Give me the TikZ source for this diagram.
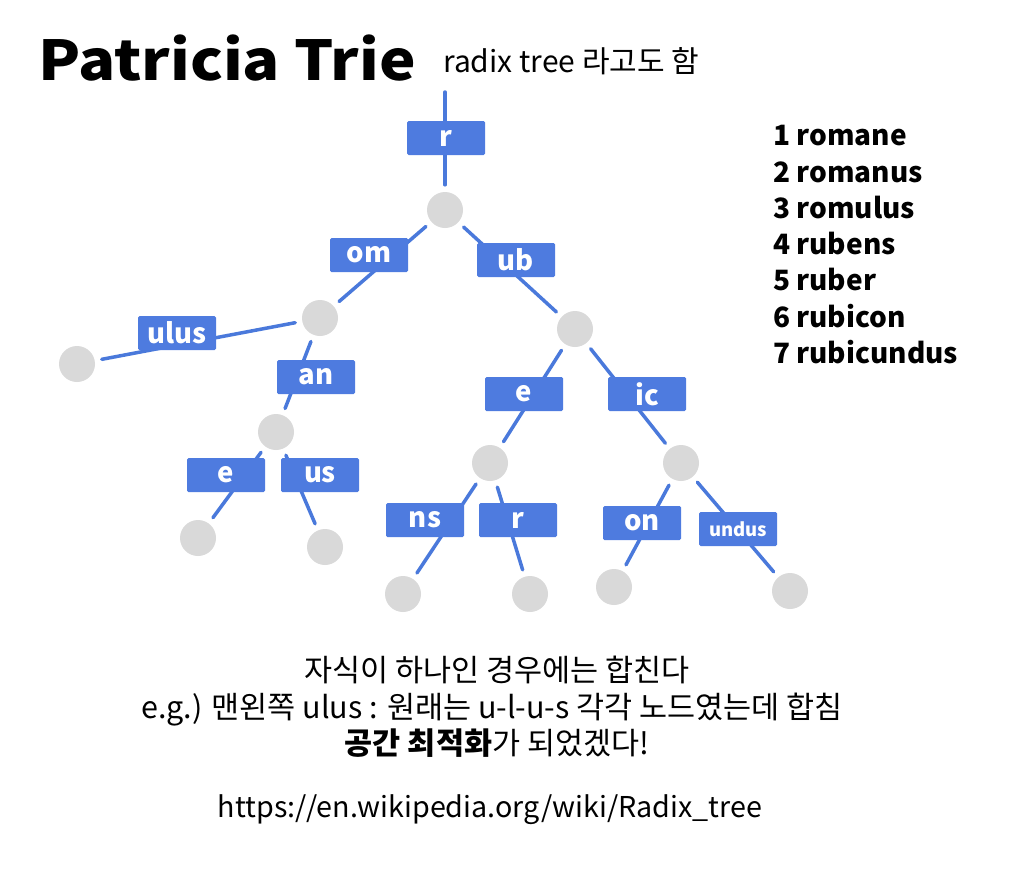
\documentclass[tikz,border=0pt]{standalone}
\usepackage{fontspec}
\setmainfont{Noto Sans CJK KR}
\definecolor{boxblue}{HTML}{4E7BDF}
\definecolor{lineblue}{HTML}{4A79DB}
\definecolor{vgray}{HTML}{D9D9D9}
\newcommand{\fs}[1]{\fontsize{#1}{#1}\selectfont}
\begin{document}
\begin{tikzpicture}[x=1pt,y=-1pt,
  lbl/.style={fill=boxblue, text=white, font=\bfseries\fs{27.5}, minimum width=78pt, minimum height=34pt, inner sep=0pt, rounded corners=1.5pt},
  vtx/.style={circle, fill=vgray, minimum size=36pt, inner sep=0pt},
  edge/.style={draw=lineblue, line width=3.5pt, line cap=round, shorten <=7pt, shorten >=7pt},
  txt/.style={inner sep=0pt},
  word/.style={font=\bfseries\fs{28}, anchor=west, inner sep=0pt}]
\useasboundingbox (0,0) rectangle (1024,873);
% title
\node[anchor=base west, inner sep=0pt, font=\bfseries\fs{55}] (title) at (38,80) {\scalebox{1.12}[1]{Patricia Trie}};
\node[txt, anchor=west, font=\fs{30}] (sub) at (443,61) {radix tree 라고도 함};
% vertices
\coordinate (top) at (445,92);
\node[vtx] (c1) at (445,210) {};
\node[vtx] (c2) at (320,318) {};
\node[vtx] (c3) at (575,329) {};
\node[vtx] (lulus) at (77,364) {};
\node[vtx] (c4) at (276,432) {};
\node[vtx] (le1) at (198,538) {};
\node[vtx] (lus) at (325,547) {};
\node[vtx] (c5) at (490,463) {};
\node[vtx] (c6) at (681,463) {};
\node[vtx] (lns) at (403,594) {};
\node[vtx] (lr) at (530,594) {};
\node[vtx] (lon) at (614,587) {};
\node[vtx] (lundus) at (790,591) {};
% edges
\draw[edge, shorten <=0pt] (top) -- (c1);
\draw[edge] (c1) -- (c2);
\draw[edge] (c1) -- (c3);
\draw[edge] (c2) -- (lulus);
\draw[edge] (c2) -- (c4);
\draw[edge] (c4) -- (le1);
\draw[edge] (c4) -- (lus);
\draw[edge] (c3) -- (c5);
\draw[edge] (c3) -- (c6);
\draw[edge] (c5) -- (lns);
\draw[edge] (c5) -- (lr);
\draw[edge] (c6) -- (lon);
\draw[edge] (c6) -- (lundus);
% labels
\node[lbl] (br) at (446,138) {r};
\node[lbl] (bom) at (369,255) {om};
\node[lbl] (bub) at (516,260) {ub};
\node[lbl] (bulus) at (177,333) {ulus};
\node[lbl] (ban) at (316,377) {an};
\node[lbl] (be1) at (226,475) {e};
\node[lbl] (bus) at (320,475) {us};
\node[lbl] (be2) at (524,394) {e};
\node[lbl] (bic) at (647,394) {ic};
\node[lbl] (bns) at (425,520) {ns};
\node[lbl] (br2) at (518,520) {r};
\node[lbl] (bon) at (642,523) {on};
\node[lbl, font=\bfseries\fs{18.5}] (bundus) at (738,529) {undus};
% word list
\node[word] (w1) at (773,136) {1 romane};
\node[word] (w2) at (773,172) {2 romanus};
\node[word] (w3) at (773,208) {3 romulus};
\node[word] (w4) at (773,244) {4 rubens};
\node[word] (w5) at (773,280) {5 ruber};
\node[word] (w6) at (773,316) {6 rubicon};
\node[word] (w7) at (773,352) {7 rubicundus};
% notes
\node[txt, font=\fs{30.5}] (n1) at (497,670) {자식이 하나인 경우에는 합친다};
\node[txt, font=\fs{30.5}] (n2) at (492,710) {e.g.) 맨왼쪽 ulus : 원래는 u-l-u-s 각각 노드였는데 합침};
\node[txt, font=\fs{30.5}] (n3) at (497,743) {\textbf{공간 최적화}가 되었겠다!};
\node[txt, font=\fs{28.7}] (n4) at (490,810) {https://en.wikipedia.org/wiki/Radix\_tree};
\end{tikzpicture}
\end{document}
